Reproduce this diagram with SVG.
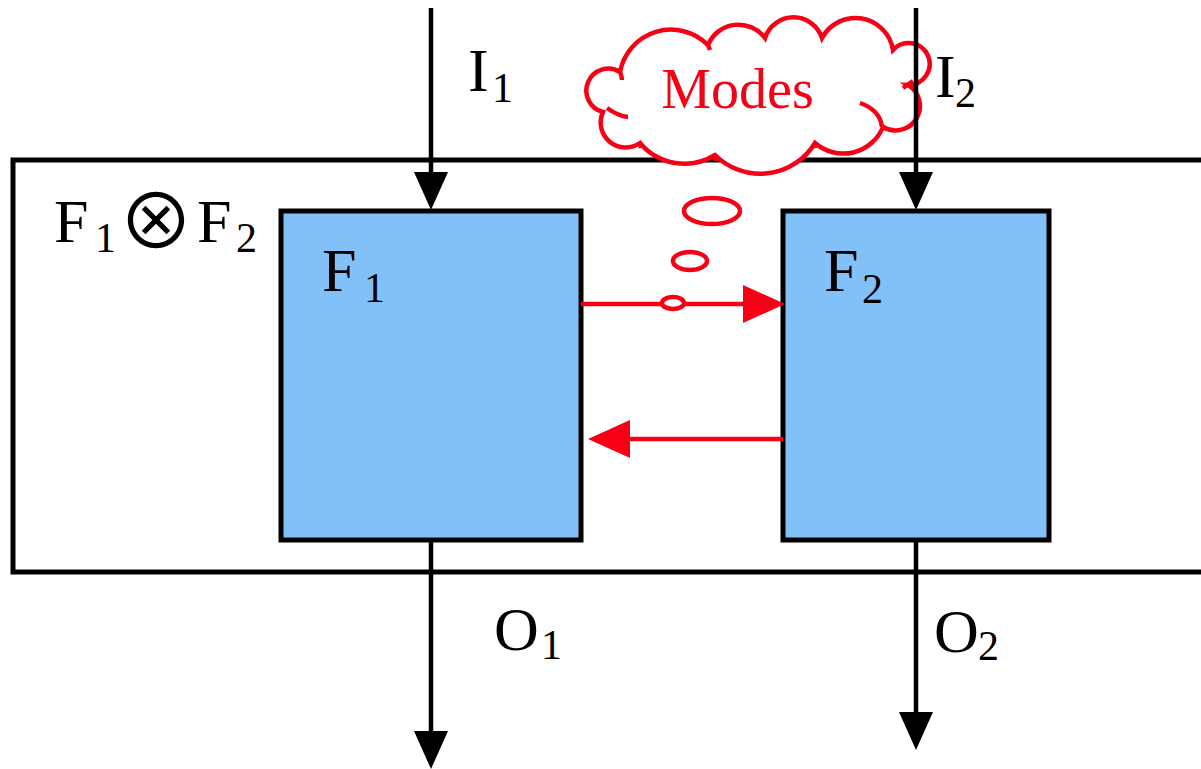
<svg xmlns="http://www.w3.org/2000/svg" width="1201" height="769" viewBox="0 0 1201 769">
<style>
.lbl{font-family:"Liberation Serif","Times New Roman",serif;font-size:62px;fill:#000}
.sub{font-size:42px}
.blk{stroke:#000;stroke-width:4.5;fill:none}
.red{stroke:#F50014;stroke-width:4.5;fill:none}
.box{fill:#82C0F8;stroke:#000;stroke-width:5}
.bub{fill:#fff;stroke:#F50014;stroke-width:4.5}
</style>
<defs>
<marker id="ah" markerUnits="userSpaceOnUse" markerWidth="38" markerHeight="34" viewBox="0 0 38 34" refX="28" refY="17" orient="auto">
<path d="M0,0 L38,17 L0,34 z" fill="#000"/>
</marker>
<marker id="rh" markerUnits="userSpaceOnUse" markerWidth="42" markerHeight="38" viewBox="0 0 42 38" refX="32" refY="19" orient="auto">
<path d="M0,0 L42,19 L0,38 z" fill="#F50014"/>
</marker>
</defs>
<rect width="1201" height="769" fill="#fff"/>
<g id="composite">
<rect x="13" y="160" width="1200" height="412" fill="none" stroke="#000" stroke-width="5"/>
<text class="lbl" x="54" y="242">F<tspan class="sub" x="95" y="252">1</tspan></text>
<text x="156" y="249" text-anchor="middle" style="font-family:'Noto Sans CJK JP','DejaVu Sans',sans-serif;font-size:76px">⊗</text>
<text class="lbl" x="197" y="242">F<tspan class="sub" x="236" y="252">2</tspan></text>
</g>
<g id="F1">
<rect class="box" x="281" y="211" width="300" height="329"/>
<text class="lbl" x="322" y="291">F<tspan class="sub" x="364" y="302">1</tspan></text>
</g>
<g id="F2">
<rect class="box" x="783" y="211" width="266" height="329"/>
<text class="lbl" x="824" y="291">F<tspan class="sub" x="862" y="303">2</tspan></text>
</g>
<g id="modes-cloud">
<path class="bub" d="M603,112 A22,22 0 1 1 620,72 A52,52 0 0 1 708,45 A33,33 0 0 1 765,38 A30,30 0 0 1 822,38 A38,38 0 0 1 893,50 A21,21 0 1 1 908,85 A24,24 0 1 1 883,127 A43,43 0 0 1 815,143 A64,64 0 0 1 715,155 A58,58 0 0 1 640,143 A25,25 0 0 1 603,112 Z"/>
<path class="red" d="M607,108 Q618,116 628,117 M860,103 Q880,110 882,127 M903,88 L913,81 M620,72 Q622,77 622,80 M708,45 L710,50 M640,143 L641,148 M715,155 L716,161 M815,143 L816,148"/>
<text x="737.5" y="108" text-anchor="middle" style="font-family:'Liberation Serif','Times New Roman',serif;font-size:56px;fill:#F50014">Modes</text>
</g>
<g id="connectors">
<path class="blk" d="M431,8 V200" marker-end="url(#ah)"/>
<path class="blk" d="M916,8 V200" marker-end="url(#ah)"/>
<path class="blk" d="M431,540 V759" marker-end="url(#ah)"/>
<path class="blk" d="M916,540 V740" marker-end="url(#ah)"/>
<path class="red" d="M581,304 H775" marker-end="url(#rh)"/>
<path class="red" d="M783,439 H598" marker-end="url(#rh)"/>
</g>
<g id="bubbles">
<ellipse class="bub" cx="712" cy="211" rx="28" ry="13"/>
<ellipse class="bub" cx="690" cy="261" rx="17" ry="9"/>
<ellipse class="bub" cx="673" cy="303" rx="11" ry="6"/>
</g>
<g id="labels">
<text class="lbl" x="468" y="91">I<tspan class="sub" x="492" y="102">1</tspan></text>
<text class="lbl" x="935" y="97">I<tspan class="sub" x="955" y="107">2</tspan></text>
<text class="lbl" x="494" y="650">O<tspan class="sub" x="541" y="659">1</tspan></text>
<text class="lbl" x="934" y="652">O<tspan class="sub" x="978" y="660">2</tspan></text>
</g>
</svg>
